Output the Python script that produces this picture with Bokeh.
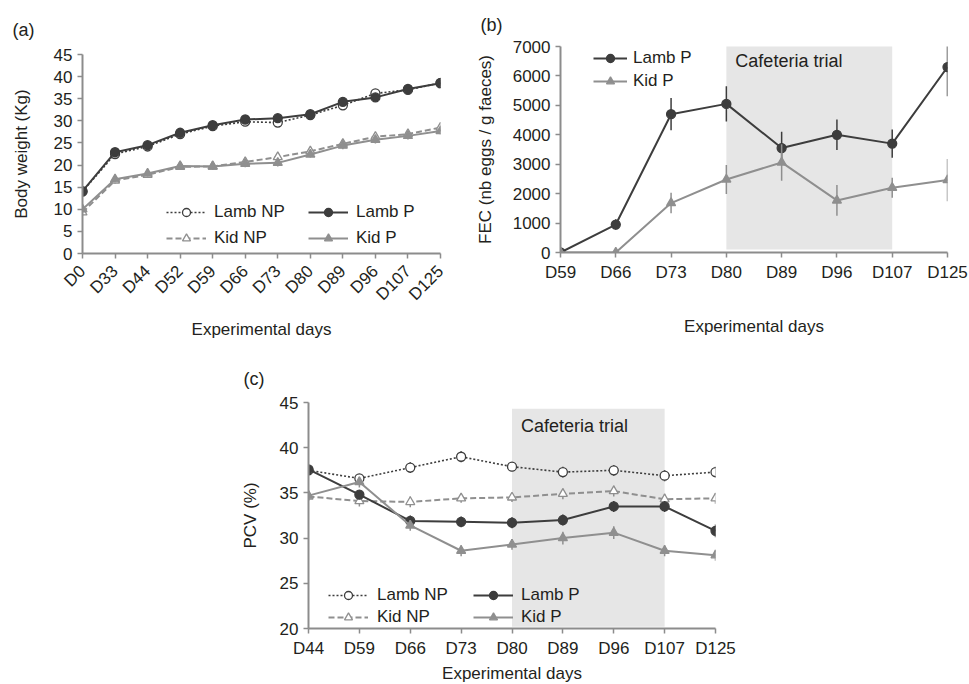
from bokeh.plotting import figure
from bokeh.models import (Legend, LegendItem, Label, FixedTicker, Range1d,
                          BoxAnnotation, Spacer, ColumnDataSource)
from bokeh.layouts import row, column
from bokeh.embed import file_html
from bokeh.resources import INLINE

# ---------------- data ----------------
# (a) body weight
days_a = ["D0", "D33", "D44", "D52", "D59", "D66", "D73", "D80", "D89", "D96", "D107", "D125"]
lamb_np_a = [14.0, 22.5, 24.2, 27.0, 28.8, 29.8, 29.6, 31.3, 33.5, 36.2, 37.0, 38.6]
lamb_p_a = [14.1, 22.9, 24.5, 27.3, 29.0, 30.3, 30.6, 31.5, 34.3, 35.3, 37.2, 38.5]
kid_np_a = [9.3, 16.5, 17.8, 19.6, 19.7, 20.7, 21.8, 23.1, 24.8, 26.4, 27.0, 28.5]
kid_p_a = [10.0, 16.8, 18.1, 19.8, 19.7, 20.3, 20.5, 22.4, 24.4, 25.7, 26.6, 27.7]
err_a = [0.7, 0.7, 0.7, 0.7, 0.7, 0.8, 0.8, 0.7, 0.8, 0.8, 0.8, 0.8]

# (b) faecal egg counts
days_b = ["D59", "D66", "D73", "D80", "D89", "D96", "D107", "D125"]
lamb_p_b = [0, 950, 4700, 5050, 3550, 4000, 3700, 6300]
lamb_p_b_err = [0, 180, 550, 600, 550, 520, 480, 990]
kid_p_b = [0, 0, 1680, 2480, 3060, 1770, 2200, 2460]
kid_p_b_err = [0, 0, 350, 490, 620, 520, 340, 720]

# (c) packed cell volume
days_c = ["D44", "D59", "D66", "D73", "D80", "D89", "D96", "D107", "D125"]
lamb_np_c = [37.5, 36.6, 37.8, 39.0, 37.9, 37.3, 37.5, 36.9, 37.3]
kid_np_c = [34.6, 34.1, 34.0, 34.4, 34.5, 34.9, 35.2, 34.3, 34.4]
lamb_p_c = [37.6, 34.8, 31.9, 31.8, 31.7, 32.0, 33.5, 33.5, 30.8]
kid_p_c = [34.7, 36.2, 31.4, 28.6, 29.3, 30.0, 30.6, 28.6, 28.1]
lamb_np_c_err = [0.5, 0.5, 0.6, 0.6, 0.5, 0.6, 0.6, 0.6, 0.6]
kid_np_c_err = [0.5, 0.6, 0.6, 0.5, 0.5, 0.6, 0.6, 0.6, 0.6]
lamb_p_c_err = [0.5, 0.5, 0.6, 0.6, 0.6, 0.6, 0.6, 0.6, 0.7]
kid_p_c_err = [0.5, 0.6, 0.6, 0.6, 0.6, 0.7, 0.7, 0.6, 0.6]

trial_start, trial_end = "D80", "D107"
ticks_a = [0, 5, 10, 15, 20, 25, 30, 35, 40, 45]
ticks_b = [0, 1000, 2000, 3000, 4000, 5000, 6000, 7000]
ticks_c = [20, 25, 30, 35, 40, 45]

# ---------------- style ----------------
FONT = "Liberation Sans"
DARK = "#3d3d3d"
GRAY = "#8f8f8f"
AXIS = "#8c8c8c"
SHADE = "#e6e6e6"
TXT = "#231f20"


def make_fig(fw, fh, left, right, top, bottom, xr, yr, tag, tag_offset, tag_standoff):
    p = figure(frame_width=fw, frame_height=fh, min_border_left=left, min_border_right=right,
               min_border_top=top, min_border_bottom=bottom, x_range=xr, y_range=yr,
               output_backend="svg", toolbar_location=None, outline_line_color=None,
               background_fill_color="white", border_fill_color="white")
    p.title.text = tag
    p.title.align = "left"
    p.title.offset = tag_offset
    p.title.standoff = tag_standoff
    p.title.text_font = FONT
    p.title.text_font_size = "18px"
    p.title.text_font_style = "normal"
    p.title.text_color = TXT
    p.xgrid.visible = False
    p.ygrid.visible = False
    for ax in (p.xaxis[0], p.yaxis[0]):
        ax.axis_line_color = AXIS
        ax.axis_line_width = 2
        ax.major_tick_line_color = AXIS
        ax.major_tick_line_width = 1.5
        ax.major_tick_out = 5
        ax.major_tick_in = 0
        ax.minor_tick_line_color = None
        ax.major_label_text_font = FONT
        ax.major_label_text_font_size = "17px"
        ax.major_label_text_color = TXT
        ax.axis_label_text_font = FONT
        ax.axis_label_text_font_size = "17px"
        ax.axis_label_text_font_style = "normal"
        ax.axis_label_text_color = TXT
    return p


def series(p, xs, ys, errs, color, dash, marker, fill, size, width=2):
    src = ColumnDataSource(dict(x=xs, y=ys,
                                lo=[y - e for y, e in zip(ys, errs)],
                                hi=[y + e for y, e in zip(ys, errs)]))
    p.segment(x0="x", y0="lo", x1="x", y1="hi", source=src, line_color=color, line_width=1.5)
    ln = p.line("x", "y", source=src, line_color=color, line_width=width, line_dash=dash)
    sc = p.scatter("x", "y", source=src, marker=marker, size=size, line_color=color,
                   fill_color=fill, line_width=1.3)
    return [ln, sc]


def legend(p, items, loc, gw, standoff, spacing):
    lg = Legend(items=[LegendItem(label=l, renderers=r) for l, r in items], location=loc,
                glyph_width=gw, glyph_height=20, label_height=20, label_standoff=standoff,
                spacing=spacing, padding=0, margin=0, border_line_color=None,
                background_fill_alpha=0, label_text_font=FONT, label_text_font_size="17px",
                label_text_color=TXT)
    p.add_layout(lg)


# ---------------- panel (a) ----------------
xa = list(range(len(days_a)))
pa = make_fig(358, 199, 82, 30, 53, 97, Range1d(0, len(days_a) - 1), Range1d(0, 45),
              "(a)", -70, 29)
pa.xaxis.ticker = FixedTicker(ticks=xa)
pa.xaxis.major_label_overrides = {i: d for i, d in enumerate(days_a)}
pa.xaxis.major_label_orientation = 0.785398
pa.xaxis.major_label_standoff = 10
pa.xaxis.axis_label = "Experimental days"
pa.xaxis.axis_label_standoff = 6
pa.yaxis.ticker = FixedTicker(ticks=ticks_a)
pa.yaxis.axis_label = "Body weight (Kg)"
pa.yaxis.axis_label_standoff = 20
r_lnp = series(pa, xa, lamb_np_a, err_a, DARK, "2 2", "circle", "white", 9, 1.6)
r_knp = series(pa, xa, kid_np_a, err_a, GRAY, "6 3", "triangle", "white", 9)
r_lp = series(pa, xa, lamb_p_a, err_a, DARK, "solid", "circle", DARK, 9)
r_kp = series(pa, xa, kid_p_a, err_a, GRAY, "solid", "triangle", GRAY, 9)
legend(pa, [("Lamb NP", r_lnp), ("Kid NP", r_knp)], (84, 5), 40, 8, 6)
legend(pa, [("Lamb P", r_lp), ("Kid P", r_kp)], (226, 5), 40, 8, 6)

# ---------------- panel (b) ----------------
xb = list(range(len(days_b)))
pb = make_fig(387, 206, 90, 22, 46, 98, Range1d(0, len(days_b) - 1), Range1d(0, 7000),
              "(b)", -80, 24)
pb.xaxis.ticker = FixedTicker(ticks=xb)
pb.xaxis.major_label_overrides = {i: d for i, d in enumerate(days_b)}
pb.xaxis.axis_label = "Experimental days"
pb.xaxis.axis_label_standoff = 32
pb.yaxis.ticker = FixedTicker(ticks=ticks_b)
pb.yaxis.axis_label = "FEC (nb eggs / g faeces)"
pb.yaxis.axis_label_standoff = 15
pb.add_layout(BoxAnnotation(left=days_b.index(trial_start), right=days_b.index(trial_end),
                            bottom=100, top=7100, fill_color=SHADE, fill_alpha=1,
                            line_color=None, level="underlay"))
pb.add_layout(Label(x=days_b.index(trial_start), y=6520, x_offset=9, text="Cafeteria trial",
                    text_font=FONT, text_font_size="18px", text_color=TXT,
                    text_baseline="middle"))
rb_lp = series(pb, xb, lamb_p_b, lamb_p_b_err, DARK, "solid", "circle", DARK, 9)
rb_kp = series(pb, xb, kid_p_b, kid_p_b_err, GRAY, "solid", "triangle", GRAY, 9)
legend(pb, [("Lamb P", rb_lp), ("Kid P", rb_kp)], (33, 161), 34, 6, 3)

# ---------------- panel (c) ----------------
xc = list(range(len(days_c)))
pc = make_fig(407, 226, 80, 40, 52, 56, Range1d(0, len(days_c) - 1), Range1d(20, 45),
              "(c)", -65, 27)
pc.xaxis.ticker = FixedTicker(ticks=xc)
pc.xaxis.major_label_overrides = {i: d for i, d in enumerate(days_c)}
pc.xaxis.axis_label = "Experimental days"
pc.xaxis.axis_label_standoff = 3
pc.xaxis.major_tick_out = 5
pc.xaxis.major_label_standoff = 5
pc.yaxis.ticker = FixedTicker(ticks=ticks_c)
pc.yaxis.axis_label = "PCV (%)"
pc.yaxis.axis_label_standoff = 17
pc.add_layout(BoxAnnotation(left=days_c.index(trial_start), right=days_c.index(trial_end),
                            bottom=20.2, top=44.3, fill_color=SHADE, fill_alpha=1,
                            line_color=None, level="underlay"))
pc.add_layout(Label(x=days_c.index(trial_start), y=42.4, x_offset=9, text="Cafeteria trial",
                    text_font=FONT, text_font_size="18px", text_color=TXT,
                    text_baseline="middle"))
rc_lnp = series(pc, xc, lamb_np_c, lamb_np_c_err, DARK, "2 2", "circle", "white", 9, 1.6)
rc_knp = series(pc, xc, kid_np_c, kid_np_c_err, GRAY, "6 3", "triangle", "white", 9)
rc_lp = series(pc, xc, lamb_p_c, lamb_p_c_err, DARK, "solid", "circle", DARK, 9)
rc_kp = series(pc, xc, kid_p_c, kid_p_c_err, GRAY, "solid", "triangle", GRAY, 9)
legend(pc, [("Lamb NP", rc_lnp), ("Kid NP", rc_knp)], (20, 1), 40, 9, 2)
legend(pc, [("Lamb P", rc_lp), ("Kid P", rc_kp)], (165, 1), 40, 8, 2)

layout = column(row(column(Spacer(width=470, height=1), pa), pb),
                row(Spacer(width=228, height=10), pc))

open("out.html", "w").write(file_html(layout, INLINE))
